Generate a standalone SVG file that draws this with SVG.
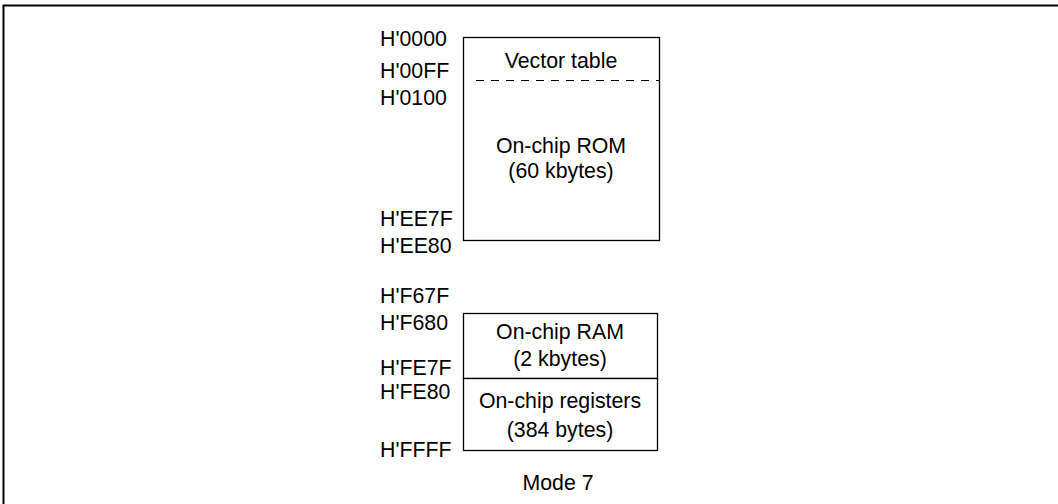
<svg xmlns="http://www.w3.org/2000/svg" width="1058" height="504" viewBox="0 0 1058 504">
<style>
text{font-family:"Liberation Sans",Arial,sans-serif;font-size:21.3px;fill:#000}
.addr{text-anchor:start}
.c{text-anchor:middle}
.box{fill:#fff;stroke:#000;stroke-width:1.3}
.dash{stroke:#000;stroke-width:1.2;stroke-dasharray:8 7;fill:none}
.frame{stroke:#000;stroke-width:2;fill:none}
</style>
<rect width="1058" height="504" fill="#fff"/>
<path class="frame" d="M3.5,504 V5.5 H1058"/>
<g id="rom">
<rect class="box" x="463.5" y="37.5" width="196" height="203"/>
<line class="dash" x1="476" y1="80.5" x2="659" y2="80.5"/>
<text class="c" x="561" y="68">Vector table</text>
<text class="c" x="561" y="153">On-chip ROM</text>
<text class="c" x="561" y="178">(60 kbytes)</text>
</g>
<g id="ram">
<rect class="box" x="463.5" y="313.5" width="194" height="65"/>
<text class="c" x="560" y="339">On-chip RAM</text>
<text class="c" x="560" y="365.5">(2 kbytes)</text>
</g>
<g id="registers">
<rect class="box" x="463.5" y="378.5" width="194" height="72"/>
<text class="c" x="560" y="407.5">On-chip registers</text>
<text class="c" x="560" y="436.5">(384 bytes)</text>
</g>
<g id="addresses">
<text class="addr" x="380" y="45.5">H'0000</text>
<text class="addr" x="380" y="78">H'00FF</text>
<text class="addr" x="380" y="105">H'0100</text>
<text class="addr" x="380" y="226">H'EE7F</text>
<text class="addr" x="380" y="253">H'EE80</text>
<text class="addr" x="380" y="303">H'F67F</text>
<text class="addr" x="380" y="330">H'F680</text>
<text class="addr" x="380" y="375">H'FE7F</text>
<text class="addr" x="380" y="399">H'FE80</text>
<text class="addr" x="380" y="456.5">H'FFFF</text>
</g>
<g id="caption">
<text class="c" x="558" y="490">Mode 7</text>
</g>
<g id="connectors"></g>
</svg>
